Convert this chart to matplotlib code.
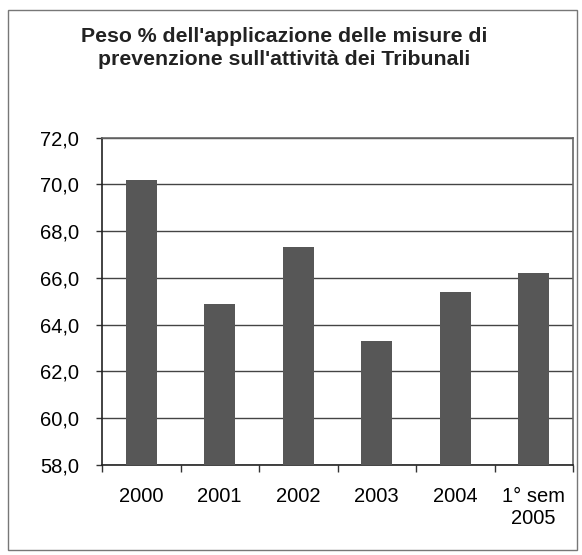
import matplotlib
matplotlib.use("Agg")
import matplotlib.pyplot as plt
from matplotlib.patches import Rectangle
from matplotlib.ticker import FixedLocator, FuncFormatter

categories = ["2000", "2001", "2002", "2003", "2004", "1° sem\n2005"]
values = [70.2, 64.9, 67.3, 63.3, 65.4, 66.2]
yticks = [58, 60, 62, 64, 66, 68, 70, 72]
title = "Peso % dell'applicazione delle misure di\nprevenzione sull'attività dei Tribunali"

plt.rcParams['font.family'] = ['Liberation Sans', 'DejaVu Sans']

W, H = 582, 555
fig = plt.figure(figsize=(W / 100, H / 100), dpi=100)
fig.patch.set_facecolor("white")

# outer border of the chart
fig.add_artist(Rectangle((8 / W, 1 - 550 / H), (577 - 8) / W, (550 - 10) / H,
                         transform=fig.transFigure, fill=False,
                         edgecolor="#777777", linewidth=1.0))

ax = fig.add_axes([102 / W, 1 - 465 / H, (573 - 102) / W, (465 - 137.5) / H])
x = list(range(len(categories)))
ax.bar(x, values, width=0.39, color="#575757", zorder=3, bottom=0)
ax.set_ylim(58, 72)
ax.set_xlim(-0.5, len(categories) - 0.5)

ax.set_yticks(yticks)
ax.yaxis.set_major_formatter(FuncFormatter(lambda v, p: f"{v:.1f}".replace(".", ",")))
ax.tick_params(axis="y", labelsize=14.5, length=4.3, width=1, color="#333333", pad=12)
ax.grid(axis="y", color="#444444", linewidth=1.0, zorder=1)

ax.set_xticks(x)
ax.set_xticklabels(categories)
ax.tick_params(axis="x", which="major", length=0, labelsize=14.5, pad=16)
ax.xaxis.set_minor_locator(FixedLocator([i + 0.5 for i in range(-1, len(categories))]))
ax.tick_params(axis="x", which="minor", length=5, width=1, color="#333333")

for s in ["left", "bottom"]:
    ax.spines[s].set_color("#222222")
    ax.spines[s].set_linewidth(1.2)
for s in ["top", "right"]:
    ax.spines[s].set_color("#666666")
    ax.spines[s].set_linewidth(1.2)

fig.text(284 / W, 1 - 48 / H, title, ha="center", va="center",
         fontsize=15.3, fontweight="bold", color="#222222", linespacing=1.22)

fig.savefig("out.png", dpi=100, facecolor="white")
